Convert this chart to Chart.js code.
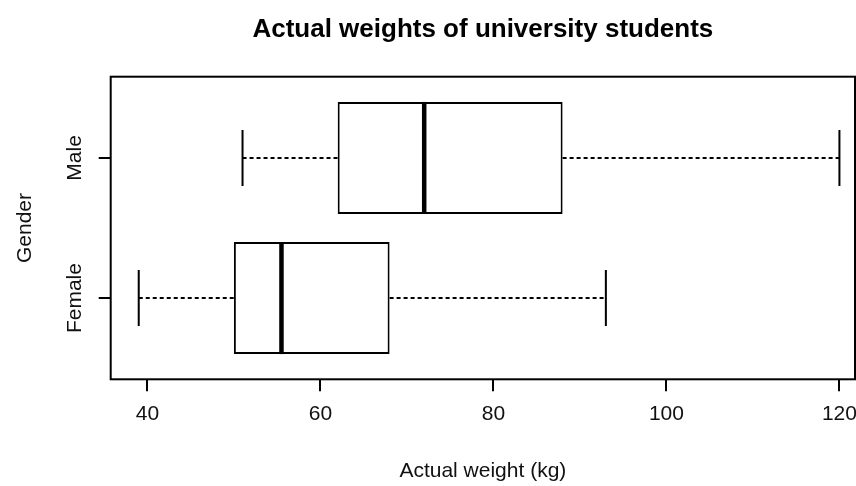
<!DOCTYPE html>
<html>
<head>
<meta charset="utf-8">
<script src="https://cdn.jsdelivr.net/npm/chart.js@4/dist/chart.umd.min.js"></script>
<style>
  html, body { margin: 0; padding: 0; background: #fff; overflow: hidden; }
  #wrap { width: 856px; height: 486px; }
</style>
</head>
<body>
<div id="wrap"><canvas id="c" width="856" height="486"></canvas></div>
<script>
// ---- data ----
const categories   = ['Male', 'Female'];
const catPositions = [2, 1];
const whiskerLow   = [51, 39];
const q1           = [62, 50];
const median       = [72, 55.5];
const q3           = [88, 68];
const whiskerHigh  = [120, 93];
const xTicks       = [40, 60, 80, 100, 120];
const xLimits      = [35.76, 121.8];
const yLimits      = [0.42, 2.58];

const FONT = "'Liberation Sans', Arial, sans-serif";
const INK = '#111';

const boxData = categories.map((c, i) => ({ y: catPositions[i], x: [q1[i], q3[i]] }));

const boxPlugin = {
  id: 'boxParts',
  afterDatasetsDraw(chart) {
    const { ctx, scales: { x, y }, chartArea } = chart;
    ctx.save();
    ctx.strokeStyle = '#000';
    categories.forEach((c, i) => {
      const yc = y.getPixelForValue(catPositions[i]);
      const capTop = y.getPixelForValue(catPositions[i] + 0.2);
      const capBot = y.getPixelForValue(catPositions[i] - 0.2);
      const boxTop = y.getPixelForValue(catPositions[i] + 0.4);
      const boxBot = y.getPixelForValue(catPositions[i] - 0.4);
      ctx.lineWidth = 2;
      ctx.setLineDash([4, 3]);
      ctx.beginPath();
      ctx.moveTo(x.getPixelForValue(whiskerLow[i]), yc);
      ctx.lineTo(x.getPixelForValue(q1[i]), yc);
      ctx.moveTo(x.getPixelForValue(q3[i]), yc);
      ctx.lineTo(x.getPixelForValue(whiskerHigh[i]), yc);
      ctx.stroke();
      ctx.setLineDash([]);
      ctx.beginPath();
      [whiskerLow[i], whiskerHigh[i]].forEach(v => {
        const px = x.getPixelForValue(v);
        ctx.moveTo(px, capTop);
        ctx.lineTo(px, capBot);
      });
      ctx.stroke();
      ctx.lineWidth = 4.5;
      ctx.beginPath();
      const mx = x.getPixelForValue(median[i]);
      ctx.moveTo(mx, boxTop);
      ctx.lineTo(mx, boxBot);
      ctx.stroke();
    });
    ctx.lineWidth = 2;
    ctx.strokeRect(chartArea.left, chartArea.top, chartArea.right - chartArea.left, chartArea.bottom - chartArea.top);
    ctx.restore();
  }
};

new Chart(document.getElementById('c'), {
  type: 'bar',
  data: {
    datasets: [{
      data: boxData,
      backgroundColor: '#fff',
      borderColor: '#000',
      borderWidth: 2,
      borderSkipped: false,
      categoryPercentage: 0.8,
      barPercentage: 1.0
    }]
  },
  options: {
    indexAxis: 'y',
    responsive: false,
    animation: false,
    devicePixelRatio: 1,
    layout: { padding: { left: 0, right: 1, top: 0, bottom: 0 } },
    plugins: {
      legend: { display: false },
      tooltip: { enabled: false },
      title: {
        display: true,
        fullSize: false,
        text: 'Actual weights of university students',
        color: '#000',
        font: { family: FONT, size: 26, weight: 'bold' },
        padding: { top: 14, bottom: 31.5 }
      }
    },
    scales: {
      x: {
        type: 'linear',
        min: xLimits[0],
        max: xLimits[1],
        beginAtZero: false,
        afterBuildTicks: s => { s.ticks = xTicks.map(v => ({ value: v })); },
        afterFit: s => { s.height = 106.7; s.paddingLeft = 0; s.paddingRight = 0; },
        border: { display: false },
        grid: { display: true, drawOnChartArea: false, drawTicks: true, tickLength: 12, color: '#000', lineWidth: 2 },
        ticks: { color: INK, font: { family: FONT, size: 21 }, padding: 10, maxRotation: 0, minRotation: 0 },
        title: { display: true, text: 'Actual weight (kg)', color: INK, font: { family: FONT, size: 21 }, padding: { top: 0, bottom: 2 } }
      },
      y: {
        type: 'linear',
        min: yLimits[0],
        max: yLimits[1],
        offset: false,
        beginAtZero: false,
        afterBuildTicks: s => { s.ticks = catPositions.map(v => ({ value: v })); },
        afterFit: s => { s.width = 110.7; s.paddingTop = 0; s.paddingBottom = 0; },
        border: { display: false },
        grid: { display: true, offset: false, drawOnChartArea: false, drawTicks: true, tickLength: 12, color: '#000', lineWidth: 2 },
        ticks: {
          color: INK,
          font: { family: FONT, size: 21 },
          minRotation: 90, maxRotation: 90,
          crossAlign: 'center',
          padding: -12,
          callback: v => categories[catPositions.indexOf(v)] || ''
        },
        title: { display: true, text: 'Gender', color: INK, font: { family: FONT, size: 21 }, padding: { top: 13, bottom: 0 } }
      }
    }
  },
  plugins: [boxPlugin]
});
</script>
</body>
</html>
